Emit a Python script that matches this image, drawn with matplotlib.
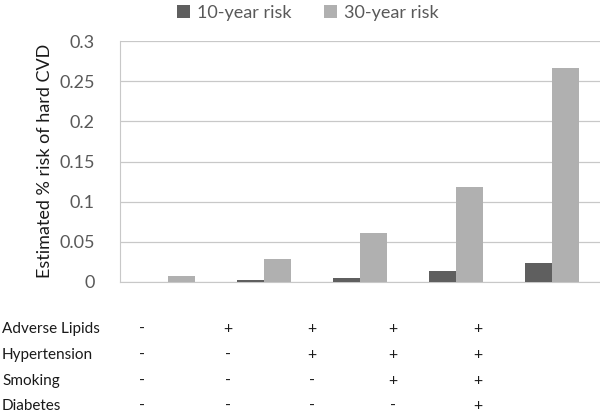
import matplotlib
matplotlib.use("Agg")
import matplotlib.pyplot as plt
import numpy as np

plt.rcParams['font.family'] = ['Lato', 'DejaVu Sans']

groups = ["G1", "G2", "G3", "G4", "G5"]
risk10 = [0.0, 0.003, 0.005, 0.014, 0.024]
risk30 = [0.008, 0.029, 0.061, 0.118, 0.266]
series_names = ["10-year risk", "30-year risk"]
yticks = [0, 0.05, 0.1, 0.15, 0.2, 0.25, 0.3]
ytick_labels = ["0", "0.05", "0.1", "0.15", "0.2", "0.25", "0.3"]
row_labels = ["Adverse Lipids", "Hypertension", "Smoking", "Diabetes"]
table = [
    ["-", "+", "+", "+", "+"],
    ["-", "-", "+", "+", "+"],
    ["-", "-", "-", "+", "+"],
    ["-", "-", "-", "-", "+"],
]

fig = plt.figure(figsize=(6, 4.13), dpi=100)
ax = fig.add_axes([0.2, 1 - 282 / 413, 0.8, (282 - 41) / 413])

x = np.arange(len(groups))
w = 0.285
ax.bar(x - w / 2, risk10, w, color="#5f5f5f", label=series_names[0], zorder=3)
ax.bar(x + w / 2, risk30, w, color="#b0b0b0", label=series_names[1], zorder=3)

ax.set_xlim(-0.5, len(groups) - 0.5)
ax.set_ylim(0, 0.3)
ax.set_yticks(yticks)
ax.set_yticklabels(ytick_labels)
ax.set_xticks([])
ax.yaxis.grid(True, color="#c8c8c8", linewidth=0.9, zorder=0)
for s in ["top", "right"]:
    ax.spines[s].set_visible(False)
ax.spines["left"].set_color("#c8c8c8")
ax.spines["bottom"].set_color("#c8c8c8")
ax.tick_params(axis="y", length=0, pad=18, labelsize=13, labelcolor="#595959")

fig.text(45 / 600, 1 - 161 / 413, "Estimated % risk of hard CVD", rotation=90,
         ha="center", va="center", fontsize=13, color="#1a1a1a")

leg = ax.legend(loc="center", bbox_to_anchor=(308 / 600, 1 - 13 / 413), bbox_transform=fig.transFigure,
                ncol=2, frameon=False, fontsize=13, handlelength=0.7, handleheight=0.7,
                columnspacing=1.8, handletextpad=0.4, labelcolor="#595959", borderpad=0)

row_y = [329, 355, 381, 406]
col_x = [142, 228, 312, 393, 478]
for r, lab in enumerate(row_labels):
    fig.text(2 / 600, 1 - row_y[r] / 413, lab, ha="left", va="center", fontsize=11, color="#1a1a1a")
    for c, sym in enumerate(table[r]):
        fig.text(col_x[c] / 600, 1 - row_y[r] / 413, sym, ha="center", va="center",
                 fontsize=11.5, color="#1a1a1a")

fig.savefig("out.png", dpi=100)
